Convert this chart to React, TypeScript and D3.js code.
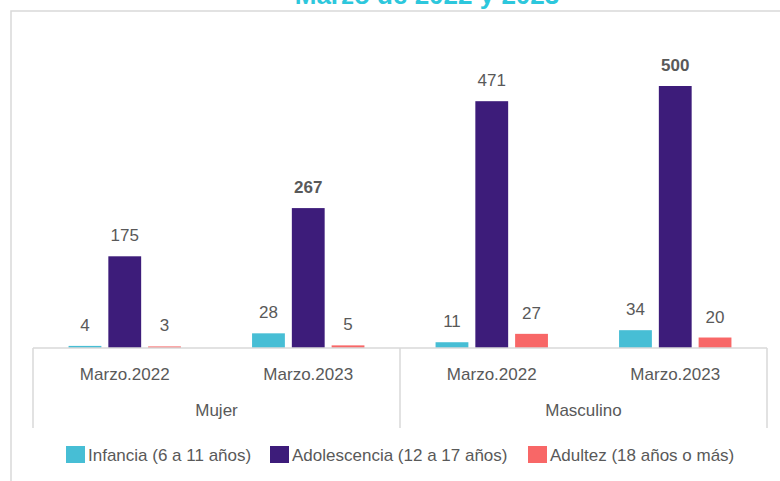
import React from 'react';
import * as d3 from 'd3';

const genders = ['Mujer', 'Masculino'];
const periods = ['Marzo.2022', 'Marzo.2023'];
const seriesNames = ['Infancia (6 a 11 años)', 'Adolescencia (12 a 17 años)', 'Adultez (18 años o más)'];
const infancia = [4, 28, 11, 34];
const adolescencia = [175, 267, 471, 500];
const adultez = [3, 5, 27, 20];
const colors = ['#47BED5', '#3D1C7A', '#F86767'];
const title = 'Marzo de 2022 y 2023';

const W = 780;
const H = 481;
const font = '"Liberation Sans", Arial, sans-serif';
const textColor = '#595959';
const lineColor = '#d9d9d9';

const App = () => {
  const values = [infancia, adolescencia, adultez];
  const cats = genders.flatMap((g) => periods.map((p) => `${g}|${p}`));

  const x0 = d3.scaleBand().domain(cats).range([33, 767]).padding(0);
  const x1 = d3
    .scaleBand()
    .domain(seriesNames)
    .range([0, x0.bandwidth()])
    .paddingInner(0.175)
    .paddingOuter(0.894);
  const y = d3.scaleLinear().domain([0, 600]).range([348, 33.6]);
  const baseY = y(0);

  const genderBand = d3.scaleBand().domain(genders).range([33, 767]);

  // max per gender is drawn bold
  const groupMax = genders.map((g, gi) =>
    d3.max(values.flatMap((s) => s.slice(gi * periods.length, (gi + 1) * periods.length)))
  );

  const legendX = [66, 270, 528];

  return (
    <svg width={W} height={H} style={{ position: 'absolute', left: 0, top: 0, background: '#fff' }}>
      <rect x={11} y={11} width={W} height={H} fill='#fff' stroke={lineColor} strokeWidth={1.5} />
      <text
        x={427}
        y={4}
        textAnchor='middle'
        fontFamily={font}
        fontWeight='bold'
        fontSize={26}
        fill='#2DC7DC'
      >
        {title}
      </text>

      {values.map((s, si) =>
        s.map((v, ci) => {
          const cx = (x0(cats[ci]) as number) + (x1(seriesNames[si]) as number);
          const gi = Math.floor(ci / periods.length);
          return (
            <g key={`${si}-${ci}`}>
              <rect
                x={cx}
                y={y(v)}
                width={x1.bandwidth()}
                height={baseY - y(v)}
                fill={colors[si]}
              />
              <text
                x={cx + x1.bandwidth() / 2}
                y={y(v) - 15}
                textAnchor='middle'
                fontFamily={font}
                fontSize={17}
                fontWeight={v === groupMax[gi] ? 'bold' : 'normal'}
                fill={textColor}
              >
                {v}
              </text>
            </g>
          );
        })
      )}

      {/* axis box */}
      <line x1={33} x2={767} y1={baseY} y2={baseY} stroke={lineColor} strokeWidth={1.5} />
      {genderBand.domain().map((g) => (
        <line
          key={g}
          x1={genderBand(g)}
          x2={genderBand(g)}
          y1={baseY}
          y2={428}
          stroke={lineColor}
          strokeWidth={1.5}
        />
      ))}
      <line x1={767} x2={767} y1={baseY} y2={428} stroke={lineColor} strokeWidth={1.5} />

      {cats.map((c) => (
        <text
          key={c}
          x={(x0(c) as number) + x0.bandwidth() / 2}
          y={380}
          textAnchor='middle'
          fontFamily={font}
          fontSize={17}
          fill={textColor}
        >
          {c.split('|')[1]}
        </text>
      ))}
      {genders.map((g) => (
        <text
          key={g}
          x={(genderBand(g) as number) + genderBand.bandwidth() / 2}
          y={416}
          textAnchor='middle'
          fontFamily={font}
          fontSize={17}
          fill={textColor}
        >
          {g}
        </text>
      ))}

      {seriesNames.map((n, i) => (
        <g key={n} transform={`translate(${legendX[i]},446)`}>
          <rect width={19} height={17} fill={colors[i]} />
          <text x={22} y={14.5} fontFamily={font} fontSize={17} fill={textColor}>
            {n}
          </text>
        </g>
      ))}
    </svg>
  );
};

export default App;
